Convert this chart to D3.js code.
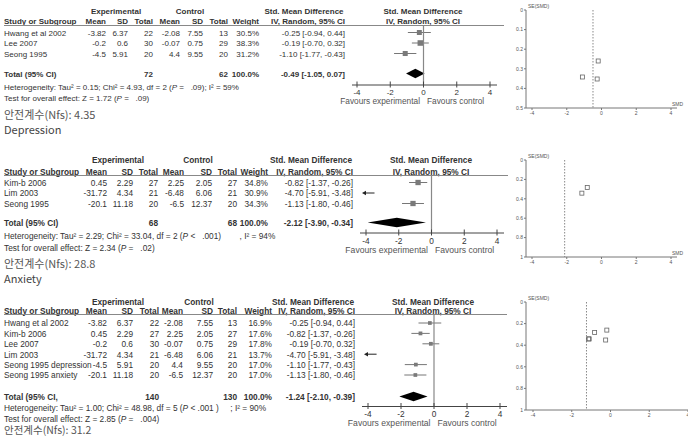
<!DOCTYPE html>
<html><head><meta charset="utf-8">
<script src="https://cdn.jsdelivr.net/npm/d3@7"></script>
<style>body{margin:0;background:#fff}svg{display:block}</style>
</head><body>
<script>
// ---------- DATA ----------
const p1Studies = ["Hwang et al 2002", "Lee 2007", "Seong 1995"];
const p1ExpMean = [-3.82, -0.2, -4.5];
const p1ExpSD   = [6.37, 0.6, 5.91];
const p1ExpN    = [22, 30, 20];
const p1CtlMean = [-2.08, -0.07, 4.4];
const p1CtlSD   = [7.55, 0.75, 9.55];
const p1CtlN    = [13, 29, 20];
const p1Weight  = [30.5, 38.3, 31.2];
const p1SMD     = [-0.25, -0.19, -1.10];
const p1Lo      = [-0.94, -0.70, -1.77];
const p1Hi      = [0.44, 0.32, -0.43];
const p1Totals  = [72, 62];
const p1Overall = [-0.49, -1.05, 0.07];
const p1Het  = ["Heterogeneity: Tau² = 0.15; Chi² = 4.93, df = 2 (", "P", " =   .09); I² = 59%"];
const p1Test = ["Test for overall effect: Z = 1.72 (", "P", " =   .09)"];
const p1Nfs = "안전계수(Nfs): 4.35";
const p1Caption = "Depression";

const p2Studies = ["Kim-b 2006", "Lim 2003", "Seong 1995"];
const p2ExpMean = [0.45, -31.72, -20.1];
const p2ExpSD   = [2.29, 4.34, 11.18];
const p2ExpN    = [27, 21, 20];
const p2CtlMean = [2.25, -6.48, -6.5];
const p2CtlSD   = [2.05, 6.06, 12.37];
const p2CtlN    = [27, 21, 20];
const p2Weight  = [34.8, 30.9, 34.3];
const p2SMD     = [-0.82, -4.70, -1.13];
const p2Lo      = [-1.37, -5.91, -1.80];
const p2Hi      = [-0.26, -3.48, -0.46];
const p2Totals  = [68, 68];
const p2Overall = [-2.12, -3.90, -0.34];
const p2Het  = ["Heterogeneity: Tau² = 2.29; Chi² = 33.04, df = 2 (", "P", " <   .001)        , I² = 94%"];
const p2Test = ["Test for overall effect: Z = 2.34 (", "P", " =   .02)"];
const p2Nfs = "안전계수(Nfs): 28.8";
const p2Caption = "Anxiety";

const p3Studies = ["Hwang et al 2002", "Kim-b 2006", "Lee 2007", "Lim 2003", "Seong 1995 depression", "Seong 1995 anxiety"];
const p3ExpMean = [-3.82, 0.45, -0.2, -31.72, -4.5, -20.1];
const p3ExpSD   = [6.37, 2.29, 0.6, 4.34, 5.91, 11.18];
const p3ExpN    = [22, 27, 30, 21, 20, 20];
const p3CtlMean = [-2.08, 2.25, -0.07, -6.48, 4.4, -6.5];
const p3CtlSD   = [7.55, 2.05, 0.75, 6.06, 9.55, 12.37];
const p3CtlN    = [13, 27, 29, 21, 20, 20];
const p3Weight  = [16.9, 17.6, 17.8, 13.7, 17.0, 17.0];
const p3SMD     = [-0.25, -0.82, -0.19, -4.70, -1.10, -1.13];
const p3Lo      = [-0.94, -1.37, -0.70, -5.91, -1.77, -1.80];
const p3Hi      = [0.44, -0.26, 0.32, -3.48, -0.43, -0.46];
const p3Totals  = [140, 130];
const p3Overall = [-1.24, -2.10, -0.39];
const p3Het  = ["Heterogeneity: Tau² = 1.00; Chi² = 48.98, df = 5 (", "P", " < .001 )     ; I² = 90%"];
const p3Test = ["Test for overall effect: Z = 2.85 (", "P", " =   .004)"];
const p3Nfs = "안전계수(Nfs): 31.2";

const forestTicks = [-4, -2, 0, 2, 4];
const funnelXTicks = [-4, -2, 0, 2, 4];
const funnel1YTicks = [0, 0.1, 0.2, 0.3, 0.4, 0.5];
const funnel2YTicks = [0, 0.2, 0.4, 0.6, 0.8, 1];

// ---------- DRAW ----------
const svg = d3.select("body").append("svg").attr("width", 688).attr("height", 438);
const TXT = "#333", GRAY = "#888", FONT = "'Liberation Sans', Arial, sans-serif";
const KFONT = "'Noto Sans CJK KR', 'Noto Sans', sans-serif";

function txt(g, x, y, s, o = {}) {
  return g.append("text").attr("x", x).attr("y", y).text(s)
    .attr("font-family", o.family || FONT).attr("font-size", o.size || 8)
    .attr("font-weight", o.weight || "normal").attr("fill", o.fill || TXT)
    .attr("text-anchor", o.anchor || "start");
}
function richTxt(g, x, y, parts, fs) {
  const t = g.append("text").attr("x", x).attr("y", y).attr("font-family", FONT)
    .attr("font-size", fs).attr("fill", TXT).attr("xml:space", "preserve");
  parts.forEach((p, i) => t.append("tspan").text(p).attr("font-style", i === 1 ? "italic" : "normal"));
}

function drawPanel(c, d) {
  const g = svg.append("g");
  const fs = c.fs;
  const B = { weight: "bold", size: fs };
  txt(g, c.expC, c.yExp, "Experimental", { ...B, anchor: "middle" });
  txt(g, c.ctlC, c.yExp, "Control", { ...B, anchor: "middle" });
  txt(g, c.smdHC, c.yExp, "Std. Mean Difference", { ...B, anchor: "middle" });
  txt(g, c.forestHC, c.yExp, "Std. Mean Difference", { ...B, anchor: "middle" });
  txt(g, 4, c.yHead, "Study or Subgroup", B);
  const heads = ["Mean", "SD", "Total", "Mean", "SD", "Total", "Weight"];
  heads.forEach((h, i) => txt(g, c.col[i], c.yHead, h, { ...B, anchor: "end" }));
  txt(g, c.smdEnd, c.yHead, "IV, Random, 95% CI", { ...B, anchor: "end" });
  txt(g, c.forestHC, c.yHead, "IV, Random, 95% CI", { ...B, anchor: "middle" });
  g.append("line").attr("x1", 4).attr("x2", c.lineX2).attr("y1", c.lineY).attr("y2", c.lineY)
    .attr("stroke", GRAY).attr("stroke-width", 1);

  const x = d3.scaleLinear().domain([-4, 4]).range(c.xRange);
  const xmin = x.invert(c.axisX[0] + 2);
  const sz = d3.scaleSqrt().domain([0, 100]).range([0, 9]);
  const f2 = v => v.toFixed(2);

  d.studies.forEach((s, i) => {
    const yc = c.row0 + i * c.step, yb = yc + 3.3;
    txt(g, 4, yb, s, { size: fs });
    const vals = [d.em[i], d.esd[i], d.en[i], d.cm[i], d.csd[i], d.cn[i]].map(String);
    vals.push(d.w[i].toFixed(1) + "%");
    vals.forEach((v, j) => txt(g, c.col[j], yb, v, { size: fs, anchor: "end" }));
    txt(g, c.smdEnd, yb, `${f2(d.smd[i])} [${f2(d.lo[i])}, ${f2(d.hi[i])}]`, { size: fs, anchor: "end" });
    if (d.lo[i] < xmin) {
      const x2 = x(Math.max(d.hi[i], xmin)), x1 = x(xmin);
      g.append("line").attr("x1", x1 + 2).attr("x2", x2).attr("y1", yc).attr("y2", yc)
        .attr("stroke", "#222").attr("stroke-width", 1);
      g.append("path").attr("d", `M${x1},${yc} l4,-2.2 l0,4.4 z`).attr("fill", "#222");
    } else {
      g.append("line").attr("x1", x(d.lo[i])).attr("x2", x(d.hi[i])).attr("y1", yc).attr("y2", yc)
        .attr("stroke", "#777").attr("stroke-width", 1);
      const s2 = sz(d.w[i]);
      g.append("rect").attr("x", x(d.smd[i]) - s2 / 2).attr("y", yc - s2 / 2)
        .attr("width", s2).attr("height", s2).attr("fill", "#7a7a7a");
    }
  });
  const tb = c.totalY + 3.5;
  txt(g, 4, tb, c.totalLabel, B);
  txt(g, c.col[2], tb, String(d.totals[0]), { ...B, anchor: "end" });
  txt(g, c.col[5], tb, String(d.totals[1]), { ...B, anchor: "end" });
  txt(g, c.col[6], tb, "100.0%", { ...B, anchor: "end" });
  txt(g, c.smdEnd, tb, `${f2(d.ov[0])} [${f2(d.ov[1])}, ${f2(d.ov[2])}]`, { ...B, anchor: "end" });
  const ty = c.totalY;
  g.append("path").attr("d", `M${x(d.ov[1])},${ty} L${x(d.ov[0])},${ty - 4.8} L${x(d.ov[2])},${ty} L${x(d.ov[0])},${ty + 4.8} Z`)
    .attr("fill", "#000");
  g.append("line").attr("x1", x(0)).attr("x2", x(0)).attr("y1", c.lineY).attr("y2", c.axisY)
    .attr("stroke", GRAY).attr("stroke-width", 1.2);
  g.append("line").attr("x1", c.axisX[0]).attr("x2", c.axisX[1]).attr("y1", c.axisY).attr("y2", c.axisY)
    .attr("stroke", "#444").attr("stroke-width", 1);
  forestTicks.forEach(t => {
    g.append("line").attr("x1", x(t)).attr("x2", x(t)).attr("y1", c.axisY - 3.5).attr("y2", c.axisY + 2.5)
      .attr("stroke", "#444").attr("stroke-width", 1);
    txt(g, x(t), c.tickY, String(t), { size: fs, anchor: "middle" });
  });
  txt(g, x(0) - 3.5, c.favY, "Favours experimental", { size: fs + 0.3, anchor: "end", fill: "#555" });
  txt(g, x(0) + 3.5, c.favY, "Favours control", { size: fs + 0.3, fill: "#555" });
  richTxt(g, 4, c.hetY, d.het, fs);
  richTxt(g, 4, c.testY, d.test, fs);
  txt(g, 4, c.nfsY, d.nfs, { size: c.nfsSize || 11, family: KFONT, fill: "#555" });
  if (d.caption) txt(g, 4, c.capY, d.caption, { size: 11, family: KFONT, fill: "#444" });
}

function drawFunnel(c, smd, lo, hi, pooled, yTicks) {
  const g = svg.append("g");
  const x = d3.scaleLinear().domain([-4, 4]).range(c.xRange);
  const y = d3.scaleLinear().domain(c.yDomain).range(c.yRange);
  const AX = "#777";
  g.append("line").attr("x1", c.axisX0).attr("x2", c.axisX0).attr("y1", c.yRange[0]).attr("y2", c.yRange[1]).attr("stroke", AX);
  g.append("line").attr("x1", c.axisX0).attr("x2", c.axisX1).attr("y1", c.yRange[1]).attr("y2", c.yRange[1]).attr("stroke", AX);
  yTicks.forEach(t => {
    g.append("line").attr("x1", c.axisX0 - 2).attr("x2", c.axisX0).attr("y1", y(t)).attr("y2", y(t)).attr("stroke", AX);
    txt(g, c.axisX0 - 3, y(t) + 1.8, String(t), { size: 5, anchor: "end", fill: "#555" });
  });
  funnelXTicks.forEach(t => {
    g.append("line").attr("x1", x(t)).attr("x2", x(t)).attr("y1", c.yRange[1]).attr("y2", c.yRange[1] + 2).attr("stroke", AX);
    txt(g, x(t), c.yRange[1] + 7, String(t), { size: 5, anchor: "middle", fill: "#555" });
  });
  txt(g, c.axisX0 + 2, c.yRange[0] - 2, "SE(SMD)", { size: 5, fill: "#555" });
  if (c.smdLabel) txt(g, c.axisX1 - 5, c.yRange[1] - 2, "SMD", { size: 5, fill: "#555" });
  g.append("line").attr("x1", x(pooled)).attr("x2", x(pooled)).attr("y1", c.yRange[0]).attr("y2", c.yRange[1])
    .attr("stroke", "#888").attr("stroke-dasharray", "1.5,1.5");
  smd.forEach((v, i) => {
    const se = (hi[i] - lo[i]) / 3.92;
    const px = x(v);
    if (px < c.axisX0) return;
    g.append("rect").attr("x", px - 2).attr("y", y(se) - 2).attr("width", 4).attr("height", 4)
      .attr("fill", "none").attr("stroke", "#666").attr("stroke-width", 0.8);
  });
}

drawPanel({ fs: 8, col: [106, 128, 153, 180, 203, 228, 259], smdEnd: 345, expC: 116, ctlC: 190, smdHC: 304, forestHC: 423,
  yExp: 14, yHead: 24, lineY: 25.5, lineX2: 504, row0: 32.5, step: 10.5, totalY: 73.5, totalLabel: "Total (95% CI)",
  xRange: [357, 490], axisX: [352, 497], axisY: 85, tickY: 95, favY: 104, hetY: 90, testY: 100.5, nfsY: 118.5, capY: 133.5 },
  { studies: p1Studies, em: p1ExpMean, esd: p1ExpSD, en: p1ExpN, cm: p1CtlMean, csd: p1CtlSD, cn: p1CtlN, w: p1Weight,
    smd: p1SMD, lo: p1Lo, hi: p1Hi, totals: p1Totals, ov: p1Overall, het: p1Het, test: p1Test, nfs: p1Nfs, caption: p1Caption });

drawPanel({ fs: 8.3, col: [107, 133, 158, 184, 212, 237, 268], smdEnd: 353, expC: 118, ctlC: 198, smdHC: 311, forestHC: 431,
  yExp: 163, yHead: 174.5, lineY: 175.5, lineX2: 508, row0: 182.5, step: 10.5, totalY: 222.5, totalLabel: "Total (95% CI)",
  xRange: [366, 497], axisX: [360, 504], axisY: 233, tickY: 243.5, favY: 252.5, hetY: 239, testY: 250.5, nfsY: 268, capY: 282.5 },
  { studies: p2Studies, em: p2ExpMean, esd: p2ExpSD, en: p2ExpN, cm: p2CtlMean, csd: p2CtlSD, cn: p2CtlN, w: p2Weight,
    smd: p2SMD, lo: p2Lo, hi: p2Hi, totals: p2Totals, ov: p2Overall, het: p2Het, test: p2Test, nfs: p2Nfs, caption: p2Caption });

drawPanel({ fs: 8.3, col: [107, 133, 159, 183, 213, 237, 272], smdEnd: 355, expC: 118, ctlC: 199, smdHC: 313, forestHC: 433,
  yExp: 305, yHead: 313.5, lineY: 314.5, lineX2: 507, row0: 323, step: 10.4, totalY: 396.5, totalLabel: "Total (95% CI,",
  xRange: [368, 500], axisX: [362, 507], axisY: 406.5, tickY: 416.5, favY: 426, hetY: 411, testY: 421.5, nfsY: 434, nfsSize: 10.5, capY: 0 },
  { studies: p3Studies, em: p3ExpMean, esd: p3ExpSD, en: p3ExpN, cm: p3CtlMean, csd: p3CtlSD, cn: p3CtlN, w: p3Weight,
    smd: p3SMD, lo: p3Lo, hi: p3Hi, totals: p3Totals, ov: p3Overall, het: p3Het, test: p3Test, nfs: p3Nfs, caption: null });

drawFunnel({ xRange: [532, 671], axisX0: 526, axisX1: 677, yDomain: [0, 0.5], yRange: [10, 108], smdLabel: true },
  p1SMD, p1Lo, p1Hi, p1Overall[0], funnel1YTicks);
drawFunnel({ xRange: [532, 671], axisX0: 526, axisX1: 677, yDomain: [0, 1], yRange: [160, 257], smdLabel: true },
  p2SMD, p2Lo, p2Hi, p2Overall[0], funnel2YTicks);
drawFunnel({ xRange: [533, 688], axisX0: 526, axisX1: 690, yDomain: [0, 1], yRange: [302, 410], smdLabel: false },
  p3SMD, p3Lo, p3Hi, p3Overall[0], funnel2YTicks);
</script>
</body></html>
